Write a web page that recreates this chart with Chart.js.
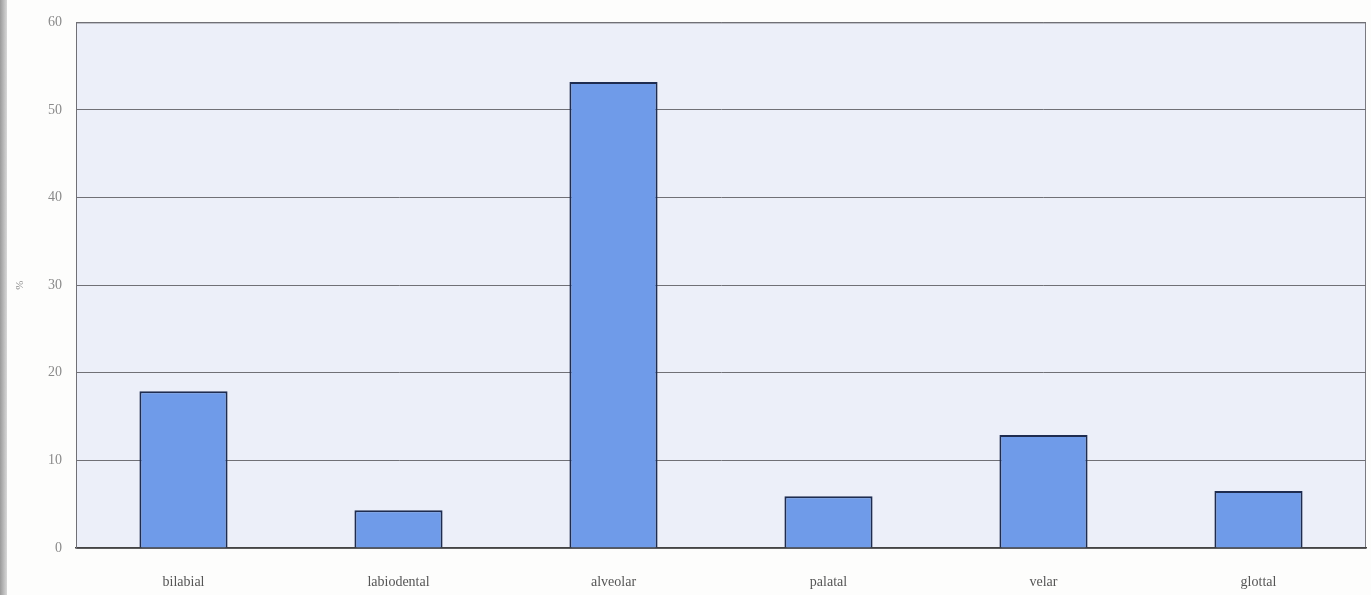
<!DOCTYPE html>
<html>
<head>
<meta charset="utf-8">
<script src="https://cdn.jsdelivr.net/npm/chart.js@4/dist/chart.umd.min.js"></script>
<style>
  html, body { margin: 0; padding: 0; background: #fdfdfc; }
  #wrap { position: relative; width: 1371px; height: 595px; }
  #edge { position: absolute; left: 0; top: 0; width: 7px; height: 595px; background: linear-gradient(90deg, #9a9a9a, #d8d8d8); }
  canvas { position: absolute; left: 0; top: 0; }
</style>
</head>
<body>
<div id="wrap">
  <div id="edge"></div>
  <canvas id="chart" width="1371" height="595"></canvas>
</div>
<script>
const places = ["bilabial", "labiodental", "alveolar", "palatal", "velar", "glottal"];
const percents = [17.9, 4.3, 53.2, 5.9, 12.9, 6.5];
const yTicks = [0, 10, 20, 30, 40, 50, 60];

// paints the pale plot panel and its frame before the bars go on
const plotPanel = {
  id: "plotPanel",
  beforeDraw(chart) {
    const { ctx, chartArea: a } = chart;
    ctx.save();
    ctx.fillStyle = "#eceff9";
    ctx.fillRect(a.left, a.top, a.right - a.left, a.bottom - a.top);
    ctx.strokeStyle = "#7a7a80";
    ctx.lineWidth = 1;
    ctx.strokeRect(a.left + 0.5, a.top + 0.5, a.right - a.left - 1, a.bottom - a.top);
    ctx.restore();
  }
};

new Chart(document.getElementById("chart"), {
  type: "bar",
  data: {
    labels: places,
    datasets: [{
      data: percents,
      backgroundColor: "#6f9be9",
      borderColor: "#1e2c50",
      borderWidth: 2,
      barPercentage: 0.82,
      categoryPercentage: 0.5
    }]
  },
  options: {
    responsive: false,
    animation: false,
    layout: { padding: { top: 22, right: 5, left: 14 } },
    plugins: { legend: { display: false }, tooltip: { enabled: false } },
    scales: {
      x: {
        grid: { display: false },
        border: { color: "#444", width: 1.5 },
        ticks: { color: "#555", padding: 18, font: { family: "Liberation Serif", size: 14 } },
        afterFit: s => { s.height = 47; }
      },
      y: {
        min: 0,
        max: 60,
        afterBuildTicks: s => { s.ticks = yTicks.map(v => ({ value: v })); },
        grid: { color: "#707076", lineWidth: 1, drawTicks: false },
        border: { color: "#707076" },
        ticks: { color: "#8a8a8a", padding: 14, font: { family: "Liberation Serif", size: 14 } },
        title: { display: true, text: "%", color: "#888", font: { family: "Liberation Serif", size: 11 }, padding: 0 },
        afterFit: s => { s.width = 62; }
      }
    }
  },
  plugins: [plotPanel]
});
</script>
</body>
</html>
